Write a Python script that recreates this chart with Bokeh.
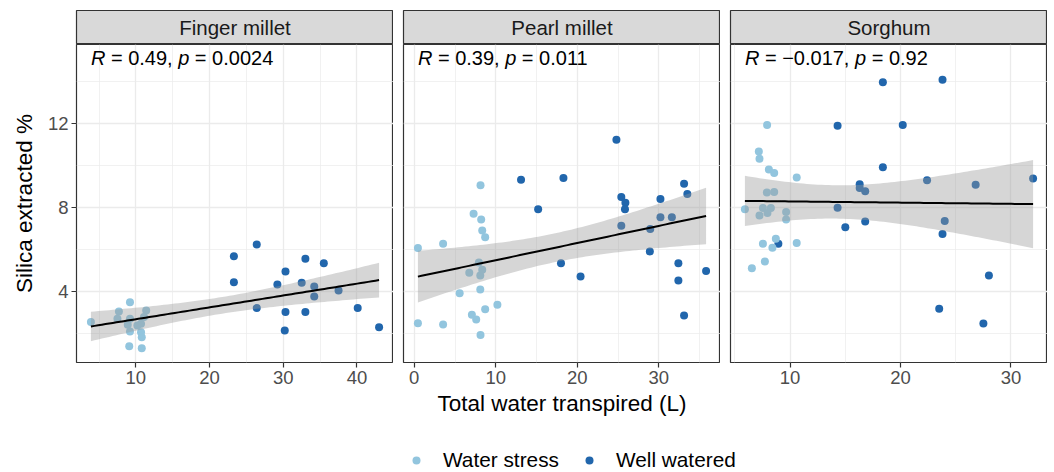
import numpy as np
from bokeh.plotting import figure
from bokeh.layouts import row, column
from bokeh.models import Range1d, FixedTicker, Legend, LegendItem
from bokeh.core.properties import value
from bokeh.embed import file_html
from bokeh.resources import INLINE

# ---------------- data ----------------
crops = ["Finger millet", "Pearl millet", "Sorghum"]
groups = ["Water stress", "Well watered"]

fm_ws_x = [3.9, 9.2, 7.7, 7.5, 9.2, 8.9, 11.4, 11.1, 10.7, 10.2, 9.2, 10.7, 10.8, 9.1, 10.8]
fm_ws_y = [2.52, 3.47, 3.03, 2.68, 2.68, 2.39, 3.08, 2.76, 2.44, 2.36, 2.07, 2.04, 1.80, 1.37, 1.27]
fm_ww_x = [23.3, 26.4, 23.3, 26.4, 30.3, 29.2, 30.3, 30.2, 33.0, 32.5, 33.0, 35.5, 34.2, 34.2, 37.5, 40.1, 43.0]
fm_ww_y = [5.67, 6.23, 4.43, 3.19, 4.94, 4.32, 3.00, 2.12, 5.55, 4.40, 3.00, 5.34, 4.22, 3.75, 4.03, 3.20, 2.28]

pm_ws_x = [8.13, 7.28, 8.21, 8.34, 8.70, 0.45, 3.54, 7.93, 8.34, 6.75, 8.10, 8.10, 5.57, 10.2, 8.70, 7.07, 7.60, 0.45, 3.54, 8.13]
pm_ws_y = [9.06, 7.70, 7.42, 6.90, 6.58, 6.06, 6.27, 5.37, 5.02, 4.88, 4.75, 4.08, 3.90, 3.35, 3.14, 2.87, 2.65, 2.47, 2.41, 1.91]
pm_ww_x = [13.1, 18.3, 15.2, 18.0, 20.4, 24.8, 25.4, 25.9, 25.85, 25.4, 30.2, 30.2, 28.95, 28.9, 31.6, 33.1, 33.5, 32.4, 32.4, 33.1, 35.8]
pm_ww_y = [9.33, 9.41, 7.91, 5.34, 4.70, 11.24, 8.50, 8.23, 7.91, 7.13, 8.40, 7.53, 6.97, 5.90, 7.53, 9.14, 8.64, 5.34, 4.51, 2.84, 4.96]

so_ws_x = [7.92, 7.17, 7.23, 8.08, 8.56, 10.6, 7.90, 8.56, 5.91, 7.54, 8.26, 7.95, 7.23, 9.64, 9.64, 7.54, 8.71, 8.40, 10.6, 7.72, 6.54]
so_ws_y = [11.94, 10.67, 10.33, 9.81, 9.65, 9.43, 8.71, 8.74, 7.91, 7.97, 7.97, 7.73, 7.62, 7.78, 7.42, 6.27, 6.51, 6.08, 6.30, 5.42, 5.10]
so_ww_x = [8.94, 18.4, 23.8, 14.3, 20.2, 18.4, 16.3, 16.3, 16.8, 22.4, 26.8, 32.0, 14.3, 15.0, 16.8, 24.0, 23.8, 28.0, 23.5, 27.5]
so_ww_y = [6.27, 13.99, 14.10, 11.91, 11.94, 9.92, 9.11, 8.93, 8.77, 9.30, 9.09, 9.38, 7.99, 7.05, 7.33, 7.35, 6.73, 4.75, 3.16, 2.45]

r_labels = ["0.49", "0.39", "\u22120.017"]
p_labels = ["0.0024", "0.011", "0.92"]

x_ticks = [[10, 20, 30, 40], [0, 10, 20, 30], [10, 20, 30]]
x_minor = [[5, 15, 25, 35], [5, 15, 25, 35], [5, 15, 25]]
y_ticks = [4, 8, 12]
y_minor = [2, 6, 10, 14]

x_title = "Total water transpired (L)"
y_title = "Silica extracted %"

# ---------------- styling ----------------
FONT = "Liberation Sans"
WS_COLOR = "#92C5DE"
WW_COLOR = "#2166AC"
BORDER = "#333333"
GRID = "#EBEBEB"
TICK_SIZE = "18.5px"
TITLE_SIZE = "22.5px"
STRIP_SIZE = "20.5px"
LEGEND_SIZE = "20.8px"
STAT_SIZE = 20

W_FRAME = 317
H_FRAME = 318
STRIP_H = 34
TOP = 10
LEFT = 76
GAP = 10
BOTTOM = 60
Y_RANGE = (0.59, 15.79)

data = [
    (fm_ws_x, fm_ws_y, fm_ww_x, fm_ww_y),
    (pm_ws_x, pm_ws_y, pm_ww_x, pm_ww_y),
    (so_ws_x, so_ws_y, so_ww_x, so_ww_y),
]

AW = {' ': 278, '=': 584, '.': 278, ',': 278, '\u2212': 584, 'R': 722, 'p': 556}
for d in "0123456789":
    AW[d] = 556


def text_width(s, size):
    return sum(AW.get(c, 556) for c in s) * size / 1000.0


def t_quant(df):
    z = 1.959963985
    return (z + (z**3 + z) / (4 * df) + (5 * z**5 + 16 * z**3 + 3 * z) / (96 * df**2)
            + (3 * z**7 + 19 * z**5 + 17 * z**3 - 15 * z) / (384 * df**3))


def smooth(x, y, n_grid=80):
    x = np.asarray(x, float)
    y = np.asarray(y, float)
    n = len(x)
    b, a = np.polyfit(x, y, 1)
    xs = np.linspace(x.min(), x.max(), n_grid)
    fit = a + b * xs
    resid = y - (a + b * x)
    s = np.sqrt(np.sum(resid**2) / (n - 2))
    sxx = np.sum((x - x.mean())**2)
    se = s * np.sqrt(1.0 / n + (xs - x.mean())**2 / sxx)
    t = t_quant(n - 2)
    return xs, fit, fit - t * se, fit + t * se


columns = []
for i, crop in enumerate(crops):
    wsx, wsy, wwx, wwy = data[i]
    allx = np.array(wsx + wwx)
    ally = np.array(wsy + wwy)
    span = allx.max() - allx.min()
    xr = (allx.min() - 0.05 * span, allx.max() + 0.05 * span)
    lb = LEFT if i == 0 else GAP

    # strip
    s = figure(width=lb + W_FRAME, height=TOP + STRIP_H,
               x_range=Range1d(0, 1), y_range=Range1d(0, 1),
               min_border_left=lb, min_border_right=0, min_border_top=TOP, min_border_bottom=0,
               x_axis_location=None, y_axis_location=None,
               output_backend="svg", toolbar_location=None,
               background_fill_color="#D9D9D9", border_fill_color="white",
               outline_line_color=BORDER, outline_line_width=1.2)
    s.grid.visible = False
    s.text(x=[0.5], y=[0.5], text=[crop], text_align="center", text_baseline="middle",
           text_font=value(FONT), text_font_size=STRIP_SIZE, text_color="#1A1A1A")

    # panel
    p = figure(width=lb + W_FRAME, height=H_FRAME + BOTTOM,
               x_range=Range1d(*xr), y_range=Range1d(*Y_RANGE),
               min_border_left=lb, min_border_right=0, min_border_top=0, min_border_bottom=BOTTOM,
               y_axis_location="left" if i == 0 else None,
               output_backend="svg", toolbar_location=None,
               background_fill_color="white", border_fill_color="white",
               outline_line_color=BORDER, outline_line_width=1.2)

    p.xaxis.ticker = FixedTicker(ticks=x_ticks[i], minor_ticks=x_minor[i])
    p.xgrid.ticker = FixedTicker(ticks=x_ticks[i], minor_ticks=x_minor[i])
    p.ygrid.ticker = FixedTicker(ticks=y_ticks, minor_ticks=y_minor)
    if i == 0:
        p.yaxis.ticker = FixedTicker(ticks=y_ticks, minor_ticks=y_minor)
    for g in (p.xgrid, p.ygrid):
        g.grid_line_color = GRID
        g.grid_line_width = 1.3
        g.minor_grid_line_color = GRID
        g.minor_grid_line_width = 0.7

    for ax in p.axis:
        ax.axis_line_color = None
        ax.major_tick_line_color = BORDER
        ax.major_tick_line_width = 1.2
        ax.major_tick_out = 5
        ax.major_tick_in = 0
        ax.minor_tick_line_color = None
        ax.major_label_text_font = FONT
        ax.major_label_text_font_size = TICK_SIZE
        ax.major_label_text_color = "#4D4D4D"
        ax.major_label_standoff = 3
        ax.axis_label_text_font = FONT
        ax.axis_label_text_font_size = TITLE_SIZE
        ax.axis_label_text_font_style = "normal"
        ax.axis_label_text_color = "black"
    if i == 0:
        p.yaxis.axis_label = y_title
        p.yaxis.axis_label_standoff = 8
    if i == 1:
        p.xaxis.axis_label = x_title
        p.xaxis.axis_label_standoff = 4

    # points
    p.scatter(wwx, wwy, size=8, fill_color=WW_COLOR, line_color=None)
    p.scatter(wsx, wsy, size=8, fill_color=WS_COLOR, line_color=None)

    # smooth
    xs, fit, lo, hi = smooth(allx, ally)
    p.varea(x=xs, y1=lo, y2=hi, fill_color="#999999", fill_alpha=0.4)
    p.line(xs, fit, line_color="black", line_width=2)

    # stat label (italic R and p)
    lx = allx.min()
    ly = 15.16
    pieces = [("R", "italic"), (" = " + r_labels[i] + ", ", "normal"),
              ("p", "italic"), (" = " + p_labels[i], "normal")]
    off = 0.0
    for txt, style in pieces:
        lead = len(txt) - len(txt.lstrip(" "))
        core = txt.strip(" ")
        p.text(x=[lx], y=[ly], text=[core], x_offset=off + text_width(" " * lead, STAT_SIZE),
               text_align="left", text_baseline="middle", text_font=value(FONT),
               text_font_size=f"{STAT_SIZE}px", text_font_style=style, text_color="black")
        off += text_width(txt, STAT_SIZE)

    columns.append(column(s, p))

# legend row
b = figure(width=1054, height=50, x_range=Range1d(0, 1054), y_range=Range1d(0, 50),
           min_border=0, x_axis_location=None, y_axis_location=None,
           output_backend="svg", toolbar_location=None,
           background_fill_color="white", border_fill_color="white", outline_line_color=None)
b.grid.visible = False
r1 = b.scatter(x=[-100], y=[-100], size=8, fill_color=WS_COLOR, line_color=None)
r2 = b.scatter(x=[-100], y=[-100], size=8, fill_color=WW_COLOR, line_color=None)
legend = Legend(items=[LegendItem(label=groups[0], renderers=[r1]),
                       LegendItem(label=groups[1], renderers=[r2])],
                location=(406, 0), orientation="horizontal",
                glyph_width=20, glyph_height=24, label_height=24, label_standoff=17,
                spacing=20, padding=0, margin=0,
                label_text_font=FONT, label_text_font_size=LEGEND_SIZE, label_text_color="black",
                border_line_color=None, background_fill_color=None)
b.add_layout(legend)

layout = column(row(*columns), b)
open("out.html", "w").write(file_html(layout, INLINE))
